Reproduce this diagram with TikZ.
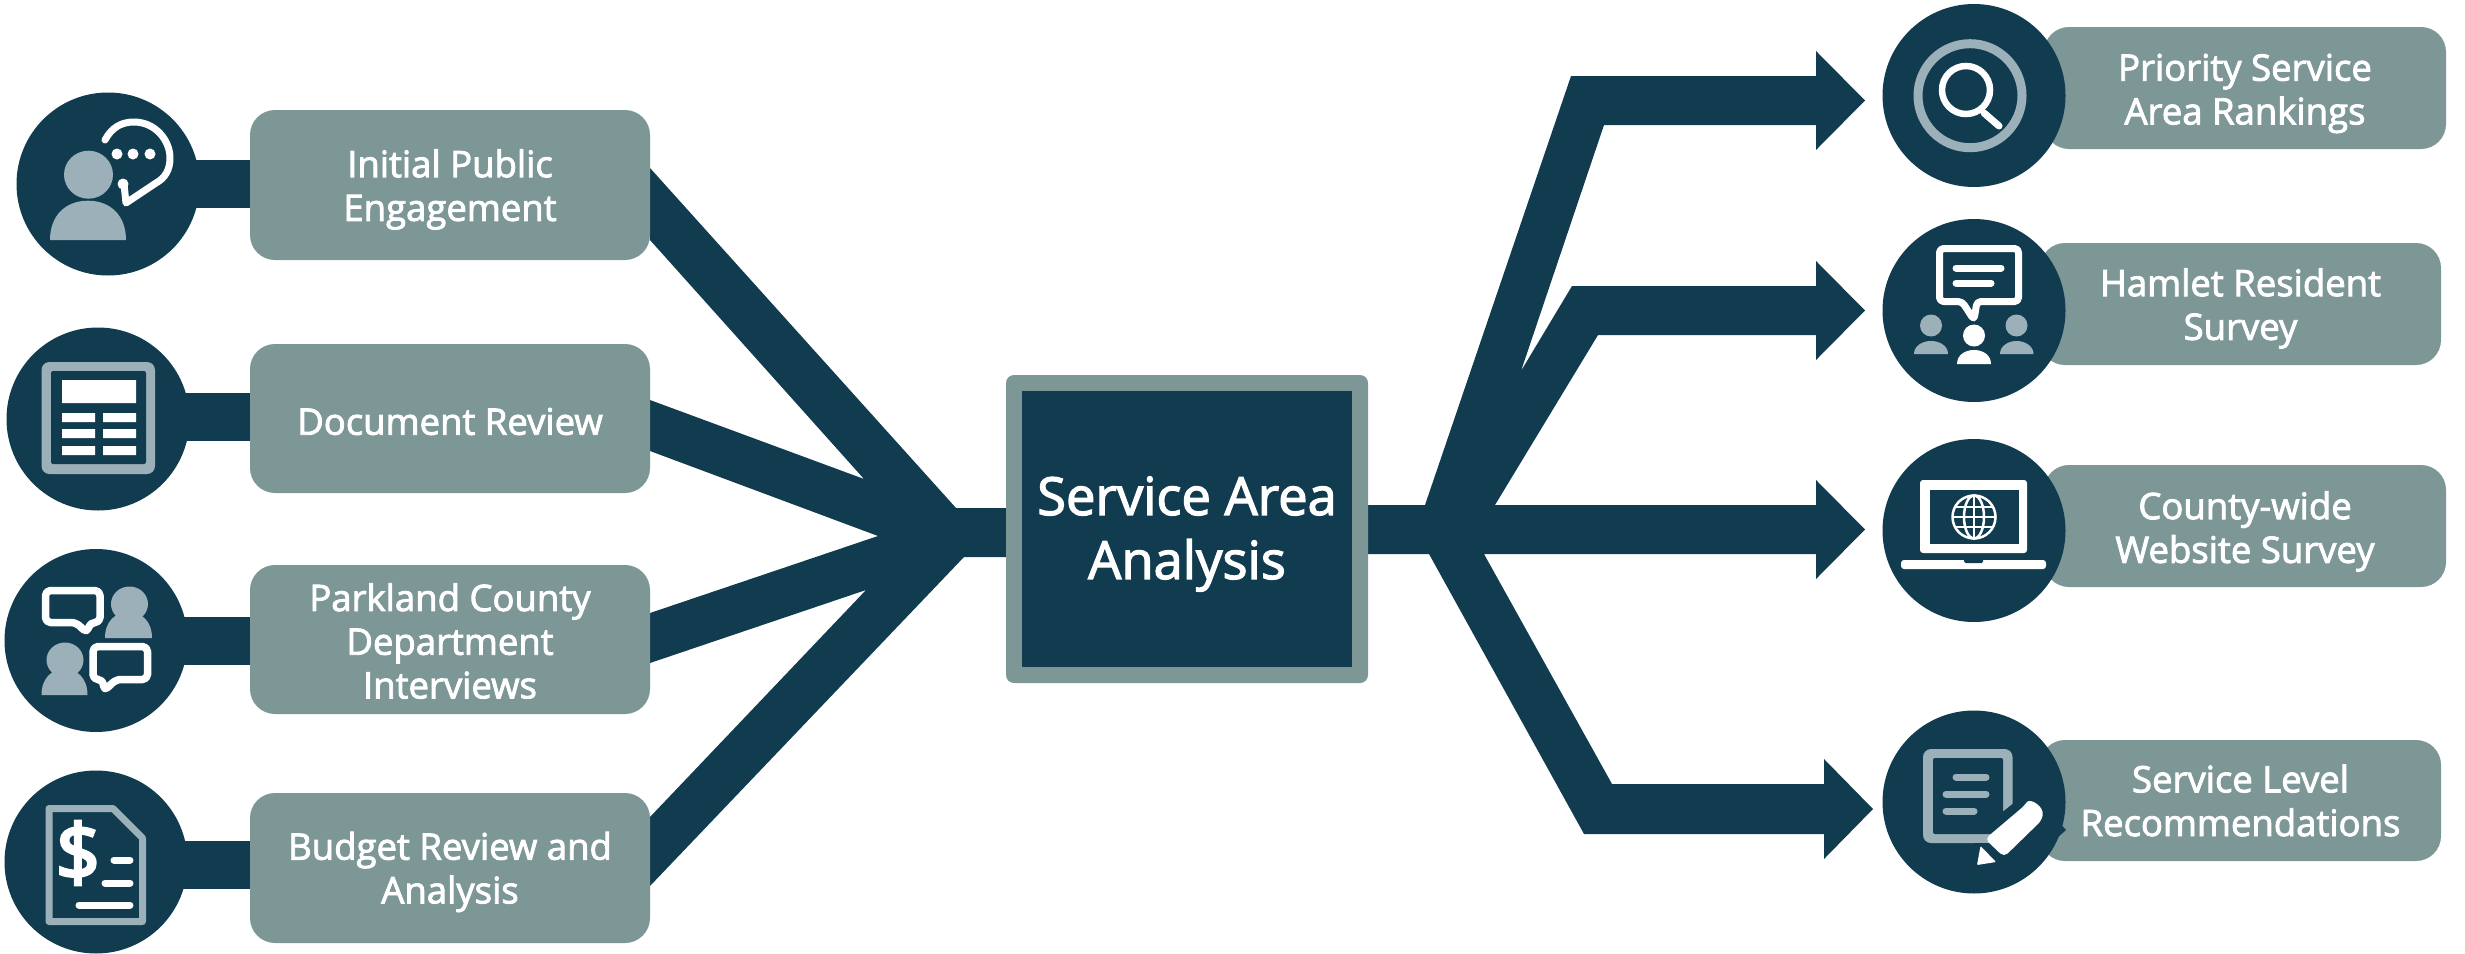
\documentclass[tikz,border=0pt]{standalone}
\usepackage{fontspec}
\setmainfont{Open Sans}[FakeBold=2.4]
\newfontfamily\dollarfont{Open Sans}[FakeBold=4]
\usetikzlibrary{calc}
\definecolor{navy}{HTML}{113C50}
\definecolor{slate}{HTML}{7D9696}
\definecolor{mist}{HTML}{9CB0B9}
\newcommand{\dome}[4]{%
  \fill ({#1-#3},#2) .. controls ({#1-#3},{#2-0.65*#4}) and ({#1-0.55*#3},{#2-#4}) .. (#1,{#2-#4})
    .. controls ({#1+0.55*#3},{#2-#4}) and ({#1+#3},{#2-0.65*#4}) .. ({#1+#3},#2) -- cycle;}
\tikzset{
  lab/.style={fill=slate,rounded corners=25pt,inner sep=0pt,outer sep=0pt},
  labtext/.style={inner sep=0pt,outer sep=0pt,text=white,align=center,font=\fontsize{36.5}{43.7}\selectfont},
  disc/.style={circle,fill=navy,inner sep=0pt,outer sep=0pt,minimum size=183pt},
  stem/.style={navy,line width=48pt},
  tree/.style={fill=navy,draw=none},
  whiteline/.style={white,line width=7pt,line cap=round,line join=round},
  mistline/.style={mist,line width=7pt,line cap=round,line join=round},
}
\begin{document}
\begin{tikzpicture}[x=1pt,y=-1pt]
\useasboundingbox (0,0) rectangle (2465,953);
% ---------- connectors into the centre ----------
\coordinate (lA1) at (650,168); \coordinate (lA2) at (650,240);
\coordinate (lB1) at (650,400); \coordinate (lB2) at (650,451);
\coordinate (lC1) at (650,613); \coordinate (lC2) at (650,663);
\coordinate (lD1) at (650,817); \coordinate (lD2) at (650,886);
\coordinate (nAB) at (864,479); \coordinate (nBC) at (878,536); \coordinate (nCD) at (866,590);
\coordinate (jT) at (956,508); \coordinate (jB) at (964,557);
\coordinate (cT) at (1010,508); \coordinate (cB) at (1010,557);
\fill[tree] (lA1) -- (jT) -- (cT) -- (cB) -- (jB) -- (lD2) -- (lD1) -- (nCD) -- (lC2) -- (lC1)
  -- (nBC) -- (lB2) -- (lB1) -- (nAB) -- (lA2) -- cycle;
% ---------- branching arrows ----------
\coordinate (oT) at (1364,505); \coordinate (oB) at (1364,554);
\fill[tree] (oT) -- (1425,505) -- (1571,76) -- (1816,76) -- (1816,51) -- (1865,100.5) -- (1816,150)
  -- (1816,125) -- (1604,125) -- (1521,371) -- (1572,286) -- (1816,286) -- (1816,261) -- (1865,310.5)
  -- (1816,360) -- (1816,335) -- (1598,335) -- (1495,505) -- (1816,505) -- (1816,480) -- (1865,529.5)
  -- (1816,579) -- (1816,554) -- (1484,554) -- (1612,784) -- (1824,784) -- (1824,759) -- (1873,809)
  -- (1824,859) -- (1824,834) -- (1584,834) -- (1429,554) -- (oB) -- cycle;
% ---------- centre box ----------
\node[fill=slate,rounded corners=8pt,inner sep=0pt,minimum width=362pt,minimum height=308pt] (ctrout) at (1187,529) {};
\node[fill=navy,inner sep=0pt,minimum width=330pt,minimum height=276pt] (ctr) at (1187,529) {};
\node[text=white,inner sep=0pt,align=center,font=\fontsize{52.5}{64}\selectfont] (ctrtext) at ([yshift=-5pt]ctr.center) {Service Area\\Analysis};
% ---------- left discs and boxes ----------
\node[disc] (dA) at (108,184) {};
\node[disc] (dB) at (98,419) {};
\node[disc] (dC) at (96,640.5) {};
\node[disc] (dD) at (96,862) {};
\node[lab,minimum width=400pt,minimum height=150pt] (bA) at (450,185) {};
\node[lab,minimum width=400pt,minimum height=149pt] (bB) at (450,418.5) {};
\node[lab,minimum width=400pt,minimum height=149pt] (bC) at (450,639.5) {};
\node[lab,minimum width=400pt,minimum height=150pt] (bD) at (450,868) {};
\node[labtext] (tA) at ([yshift=-4.5pt]bA.center) {Initial Public\\Engagement};
\node[labtext] (tB) at ([yshift=-3pt]bB.center) {Document Review};
\node[labtext] (tC) at ([yshift=-1.5pt]bC.center) {Parkland County\\Department\\Interviews};
\node[labtext] (tD) at ([yshift=-4pt]bD.center) {Budget Review and\\Analysis};
\draw[stem] (dA.center) -- (dA.center -| bA.west);
\draw[stem] (dB.center) ++(0,-2) -- ($(dB.center -| bB.west)+(0,-2)$);
\draw[stem] (dC.center) -- (dC.center -| bC.west);
\draw[stem] (dD.center) ++(0,3) -- ($(dD.center -| bD.west)+(0,3)$);
% ---------- right boxes and discs ----------
\node[lab,minimum width=402pt,minimum height=122pt] (bP) at (2245,88) {};
\node[lab,minimum width=401pt,minimum height=122pt] (bH) at (2240.5,304) {};
\node[lab,minimum width=402pt,minimum height=122pt] (bW) at (2245,526) {};
\node[lab,minimum width=401pt,minimum height=121pt] (bS) at (2240.5,800.5) {};
\node[labtext] (tP) at ([yshift=-5.5pt]bP.center) {Priority Service\\Area Rankings};
\node[labtext] (tH) at ([yshift=-4.5pt]bH.center) {Hamlet Resident\\Survey};
\node[labtext] (tW) at ([yshift=-5.5pt]bW.center) {County-wide\\Website Survey};
\node[labtext] (tS) at ([yshift=0pt]bS.center) {Service Level\\Recommendations};
\node[disc] (dP) at (1974,95.5) {};
\node[disc] (dH) at (1974,310.5) {};
\node[disc] (dW) at (1974,530.5) {};
\node[disc] (dS) at (1974,802) {};
% ---------- icon: person with bubble ----------
\fill[mist] (88.5,174.7) ellipse [x radius=24.5,y radius=24];
\fill[mist] (50,240) .. controls (50,215) and (66,200.7) .. (88,200.7) .. controls (110,200.7) and (126,215) .. (126,240) -- cycle;
\draw[whiteline] (105,140) .. controls (112,127) and (122,122) .. (134,122) .. controls (155,122) and (170,140) .. (170,158)
  .. controls (170,170) and (165,178) .. (156,183) -- (126,203) -- (124,184);
\fill[white] (123,184) circle (5.5) (117,154) circle (5.5) (133,154) circle (5.5) (150,154) circle (5.5);
% ---------- icon: document grid ----------
\fill[mist,rounded corners=8pt] (41.5,362) rectangle (155,474);
\fill[navy,rounded corners=2pt] (51,371) rectangle (146,464);
\fill[white] (62,380) rectangle (136,403)
  (62,413) rectangle (95,422) (103,413) rectangle (136,422)
  (62,429) rectangle (95,438) (103,429) rectangle (136,438)
  (62,446) rectangle (95,455) (103,446) rectangle (136,455);
% ---------- icon: interviews ----------
\draw[white,line width=7.5pt,line join=round,rounded corners=5pt] (45.5,590.5) -- (100,590.5) -- (100,622.5) -- (90,622.5) -- (87,633) -- (76,622.5) -- (45.5,622.5) -- cycle;
\draw[white,line width=7.5pt,line join=round,rounded corners=5pt] (93,646.5) -- (147.5,646.5) -- (147.5,679.5) -- (116,679.5) -- (104,691) -- (103,679.5) -- (93,679.5) -- cycle;
\fill[mist] (129.5,604) ellipse [x radius=18.5,y radius=17.5];
\fill[mist] (65,660) ellipse [x radius=18.5,y radius=17.5];
\begin{scope}[mist]\dome{128.5}{638}{23.5}{26}\dome{64.5}{695}{23}{26}\end{scope}
% ---------- icon: budget document ----------
\draw[mist,line width=7pt,line join=round] (49,808.5) -- (113,808.5) -- (142.5,838) -- (142.5,921.5) -- (49,921.5) -- cycle;
\node[text=white,inner sep=0pt,font=\fontsize{78}{78}\dollarfont] (dollar) at (78,853) {\$};
\draw[white,line width=7pt,line cap=round] (114,860) -- (130,860) (105,883) -- (130,883) (79,905) -- (130,905);
% ---------- icon: magnifier ----------
\draw[mist,line width=9pt] (1970,95.7) circle (52);
\draw[white,line width=6.5pt] (1966,90) circle (24);
\draw[white,line width=7pt,line cap=round] (1984,113) -- (1999,126);
% ---------- icon: survey ----------
\draw[white,line width=7pt,line join=round,rounded corners=4pt] (1939.5,248.5) -- (2018.5,248.5) -- (2018.5,301.5) -- (1977,301.5) -- (1974,320) -- (1962,301.5) -- (1939.5,301.5) -- cycle;
\draw[white,line width=7pt,line cap=round] (1956,268) -- (2001,268) (1956,283) -- (1991,283);
\fill[white] (1974,335.5) ellipse [x radius=11,y radius=11];
\fill[white] (1957,364) .. controls (1957,355) and (1965,350) .. (1974,350) .. controls (1983,350) and (1991,355) .. (1991,364) -- cycle;
\fill[mist] (1931,325.5) ellipse [x radius=11,y radius=11] (2016.5,325.5) ellipse [x radius=11,y radius=11];
\fill[mist] (1914,354) .. controls (1914,346) and (1922,341) .. (1931,341) .. controls (1940,341) and (1948,346) .. (1948,354) -- cycle;
\fill[mist] (2000,354) .. controls (2000,346) and (2008,341) .. (2016.5,341) .. controls (2025,341) and (2033.5,346) .. (2033.5,354) -- cycle;
% ---------- icon: laptop ----------
\fill[white,rounded corners=3pt] (1920,553) -- (1920,480) -- (2027,480) -- (2027,553) -- cycle;
\fill[navy] (1930,490) rectangle (2019,544);
\fill[white,rounded corners=3pt] (1901,560) -- (2046,560) -- (2046,569) -- (1901,569) -- cycle;
\fill[navy,rounded corners=1.5pt] (1964,558) rectangle (1983,563);
\begin{scope}[white,line width=2.5pt]
\draw (1974,517) circle (21.5);
\draw (1974,517) ellipse [x radius=10,y radius=21.5];
\draw (1974,495.5) -- (1974,538.5) (1952.5,517) -- (1995.5,517) (1956,507) -- (1992,507) (1956,527) -- (1992,527);
\end{scope}
% ---------- icon: recommendations ----------
\fill[mist,rounded corners=8pt] (1923,749) rectangle (2012.5,843);
\fill[navy,rounded corners=2pt] (1933,758) rectangle (2003,834);
\draw[mistline] (1956,777) -- (1986,777) (1946,794) -- (1986,794) (1946,811) -- (1974,811);
\fill[navy] (1990,822) -- (2030,790) -- (2066,830) -- (2010,880) -- cycle;
\fill[navy] (1974,843) rectangle (2012,880);
\fill[white,rounded corners=5pt] (2024,806) .. controls (2030,798) and (2044,806) .. (2042,820) -- (2004,857) -- (1985,839) -- cycle;
\fill[white,rounded corners=1pt] (1980.5,846) -- (1996,862) -- (1977,865) -- cycle;
\end{tikzpicture}
\end{document}
